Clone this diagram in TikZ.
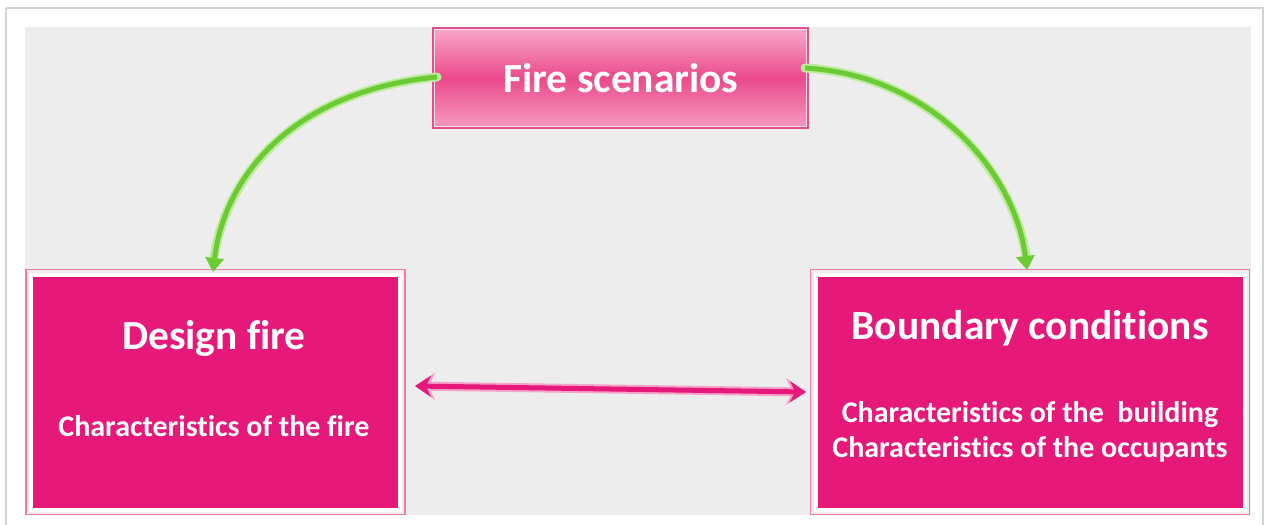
\documentclass[tikz,border=0pt]{standalone}
\usepackage{fontspec}
\setmainfont{Carlito}[Ligatures=NoCommon]
\usetikzlibrary{arrows.meta,calc}
\definecolor{mag}{HTML}{E6197A}
\definecolor{pinkline}{HTML}{F07AB0}
\definecolor{firetop}{HTML}{F8A9C9}
\definecolor{firemid}{HTML}{EB4A8B}
\definecolor{firebot}{HTML}{F59CC0}
\definecolor{fireedge}{HTML}{E4508F}
\definecolor{grn}{HTML}{6CCB34}
\definecolor{grnglow}{HTML}{BDEB9C}
\definecolor{panel}{HTML}{EDEDED}
\definecolor{frame}{HTML}{D2D2D2}
\tikzset{
  bigbox/.style={fill=mag, draw=white, line width=4pt, inner sep=0pt},
  outerline/.style={draw=pinkline, line width=1.6pt},
  firebox/.style={draw=fireedge, line width=2pt, top color=firetop, bottom color=firebot, middle color=firemid, minimum width=375pt, minimum height=100pt, inner sep=0pt},
  titletxt/.style={text=white, font=\bfseries\fontsize{41.5}{44}\selectfont, inner sep=0pt},
  subtxt/.style={text=white, font=\bfseries\fontsize{30}{35}\selectfont, inner sep=0pt, align=center},
  grnglowline/.style={draw=grnglow, line width=9pt, line cap=round},
  grnline/.style={draw=grn, line width=5pt, -{Triangle[width=18pt,length=14pt]}},
  pinkglow/.style={draw=pinkline!70, line width=9pt, {Stealth[width=27pt,length=20pt]}-{Stealth[width=27pt,length=20pt]}},
  pinkarrow/.style={draw=mag, line width=5pt, {Stealth[width=21pt,length=16pt]}-{Stealth[width=21pt,length=16pt]}}
}
\begin{document}
\begin{tikzpicture}[x=1pt,y=-1pt]
\useasboundingbox (0,0) rectangle (1267,525);
\fill[white] (0,0) rectangle (1267,525);
% frame and panel
\draw[frame, line width=1.2pt] (6,8) -- (1263,8) -- (1263,525);
\draw[frame, line width=1.6pt] (6,8) -- (6,525);
\fill[panel] (25,27) rectangle (1251,515);
% boxes
\node[bigbox, minimum width=369pt, minimum height=235pt] (L) at (215.5,392) {};
\draw[outerline] ($(L.north west)+(-3,-3)$) rectangle ($(L.south east)+(3,3)$);
\node[bigbox, minimum width=429pt, minimum height=235pt] (R) at (1030,392) {};
\draw[outerline] ($(R.north west)+(-3,-3)$) rectangle ($(R.south east)+(3,3)$);
\node[firebox] (F) at (620.5,78) {};
\draw[white!60!firetop, line width=0.8pt] ($(F.north west)+(2.5,2.5)$) rectangle ($(F.south east)+(-2.5,-2.5)$);
% texts
\node[titletxt] (Ft) at (621,78) {Fire scenarios};
\node[titletxt] (Lt) at (214,338) {Design fire};
\node[subtxt] (Ls) at (214,426) {Characteristics of the fire};
\node[titletxt] (Rt) at (1030,328) {Boundary conditions};
\node[subtxt] (Rs) at (1030,432) {Characteristics of the \ building\\Characteristics of the occupants};
% anchor points
\coordinate (FL) at (437,77);
\coordinate (FR) at (805,68);
\coordinate (LT) at (213,272);
\coordinate (RT) at (1027,270);
\coordinate (DA) at (415,386);
\coordinate (DB) at (806,392);
% green arrows
\draw[grnglowline] (FL) .. controls (300,90) and (225,170) .. ($(LT)+(0,-8)$);
\draw[grnline] (FL) .. controls (300,90) and (225,170) .. (LT);
\draw[grnglowline] (FR) .. controls (930,75) and (1015,170) .. ($(RT)+(0,-8)$);
\draw[grnline] (FR) .. controls (930,75) and (1015,170) .. (RT);
% pink double arrow
\draw[pinkglow] (DA) -- (DB);
\draw[pinkarrow] (DA) -- (DB);
\end{tikzpicture}
\end{document}
